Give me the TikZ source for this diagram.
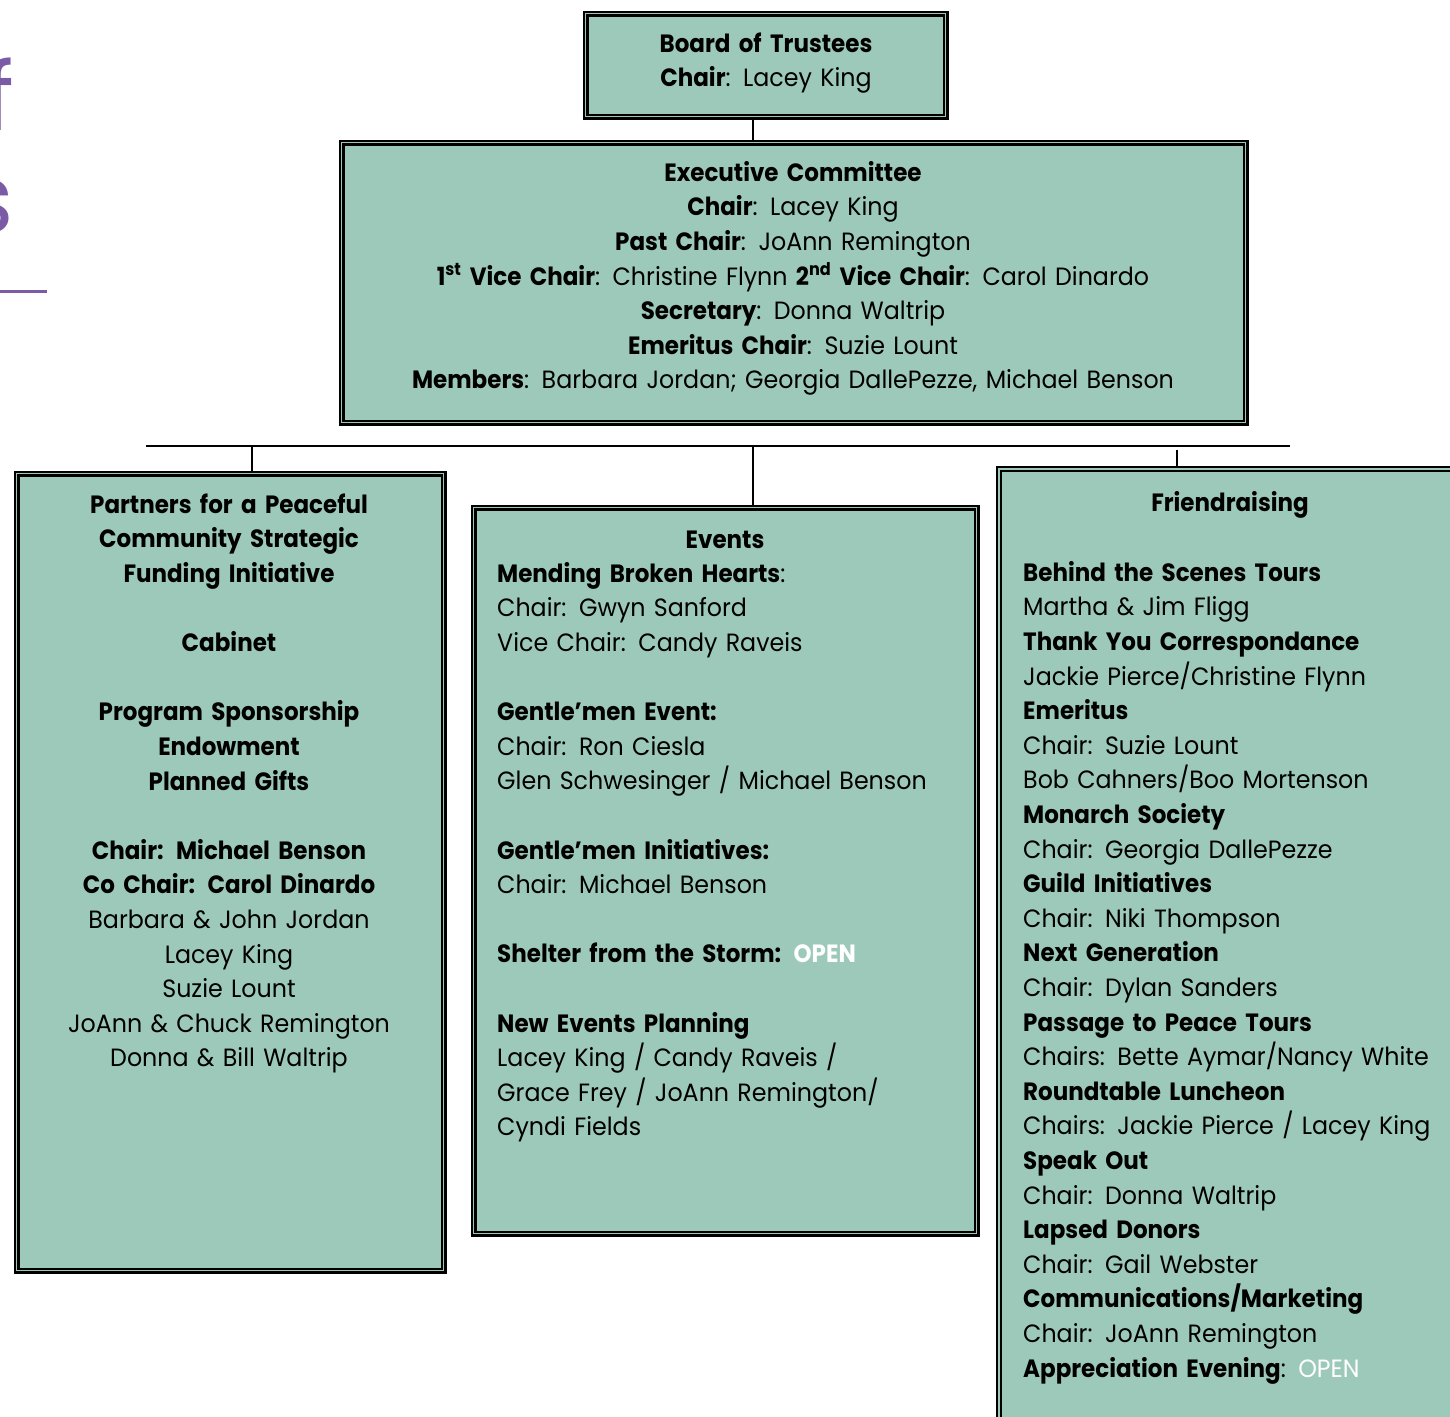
\documentclass[tikz,border=0pt]{standalone}
\usepackage{fontspec}
\setmainfont{Poppins}[FakeStretch=0.95, BoldFeatures={FakeStretch=0.92}]
\definecolor{mint}{RGB}{157,201,186}
\definecolor{purp}{RGB}{123,90,166}
\tikzset{
  orgbox/.style={draw=black, fill=mint, double=mint, double distance=1.6pt, line width=2.2pt, inner sep=0pt},
  txt/.style={inner sep=0pt, font=\fontsize{25}{34.6}\selectfont, text width=#1},
  conn/.style={draw=black, line width=1.8pt},
}
\begin{document}
\begin{tikzpicture}[x=1pt,y=1pt]
\useasboundingbox (0,0) rectangle (1450,-1416);
\clip (0,0) rectangle (1450,-1416);
% cut-off title fragments on the left
\node[txt=200pt, align=right, anchor=base east, text=purp, font=\fontsize{95}{100}\selectfont] (fragf) at (14,-130) {f};
\node[txt=200pt, align=right, anchor=base east, text=purp, font=\fontsize{95}{100}\selectfont] (frags) at (14,-232) {s};
\coordinate (ulA) at (0,-291);
\coordinate (ulB) at (47,-291);
\draw[purp, line width=3pt] (ulA) -- (ulB);
% boxes
\node[orgbox, minimum width=360pt, minimum height=103pt] (board) at (765.5,-65) {};
\node[orgbox, minimum width=904pt, minimum height=280pt] (exec) at (793.5,-282.5) {};
\node[orgbox, minimum width=427pt, minimum height=797pt] (left) at (230,-872) {};
\node[orgbox, minimum width=503pt, minimum height=726pt] (mid) at (725,-870.5) {};
\node[orgbox, minimum width=481pt, minimum height=981pt] (right) at (1239.75,-959.75) {};
% connectors
\coordinate (bt) at (753,-116.5);
\draw[conn] (bt) -- (bt |- exec.north);
\coordinate (barL) at (146,-446);
\coordinate (barR) at (1290,-446);
\draw[conn] (barL) -- (barR);
\coordinate (jl) at (252,-446);
\draw[conn] (jl) -- (jl |- left.north);
\coordinate (jm) at (753,-446);
\draw[conn] (jm) -- (jm |- mid.north);
\coordinate (jr) at (1177,-450);
\draw[conn] (jr) -- (jr |- right.north);
% texts
\node[txt=360pt, align=center, anchor=north] (boardtxt) at (766,-52+24.2) {\strut\textbf{Board of Trustees}\\
\textbf{Chair}: Lacey King};
\node[txt=900pt, align=center, anchor=north] (exectxt) at (793,-181+24.2) {\strut\textbf{Executive Committee}\\
\textbf{Chair}: Lacey King\\
\textbf{Past Chair}: JoAnn Remington\\
\textbf{1\textsuperscript{st} Vice Chair}: Christine Flynn \textbf{2\textsuperscript{nd} Vice Chair}:\enspace Carol Dinardo\\
\textbf{Secretary}: Donna Waltrip\\
\textbf{Emeritus Chair}:\enspace Suzie Lount\\
\textbf{Members}: Barbara Jordan; Georgia DallePezze, Michael Benson};
\node[txt=420pt, align=center, anchor=north] (lefttxt) at (229,-513+24.2) {\strut\textbf{Partners for a Peaceful}\\
\textbf{Community Strategic}\\
\textbf{Funding Initiative}\\
~\\
\textbf{Cabinet}\\
~\\
\textbf{Program Sponsorship}\\
\textbf{Endowment}\\
\textbf{Planned Gifts}\\
~\\
\textbf{Chair: Michael Benson}\\
\textbf{Co Chair: Carol Dinardo}\\
Barbara \& John Jordan\\
Lacey King\\
Suzie Lount\\
JoAnn \& Chuck Remington\\
Donna \& Bill Waltrip};
\node[txt=480pt, align=center, anchor=north] (midtitle) at (725,-548+24.2) {\strut\textbf{Events}};
\node[txt=470pt, align=left, anchor=north west] (midtxt) at (497,-582+24.2) {\strut\textbf{Mending Broken Hearts}:\\
Chair:\enspace Gwyn Sanford\\
Vice Chair:\enspace Candy Raveis\\
~\\
\textbf{Gentle’men Event:}\\
Chair: Ron Ciesla\\
Glen Schwesinger / Michael Benson\\
~\\
\textbf{Gentle’men Initiatives:}\\
Chair: Michael Benson\\
~\\
\textbf{Shelter from the Storm: \textcolor{white}{OPEN}}\\
~\\
\textbf{New Events Planning}\\
Lacey King / Candy Raveis /\\
Grace Frey / JoAnn Remington/\\
Cyndi Fields};
\node[txt=440pt, align=center, anchor=north] (righttitle) at (1230,-511+24.2) {\strut\textbf{Friendraising}};
\node[txt=600pt, align=left, anchor=north west] (righttxt) at (1023,-581+24.2) {\strut\textbf{Behind the Scenes Tours}\\
Martha \& Jim Fligg\\
\textbf{Thank You Correspondance}\\
Jackie Pierce/Christine Flynn\\
\textbf{Emeritus}\\
Chair: Suzie Lount\\
Bob Cahners/Boo Mortenson\\
\textbf{Monarch Society}\\
Chair:\enspace Georgia DallePezze\\
\textbf{Guild Initiatives}\\
Chair:\enspace Niki Thompson\\
\textbf{Next Generation}\\
Chair: Dylan Sanders\\
\textbf{Passage to Peace Tours}\\
Chairs:\enspace Bette Aymar/Nancy White\\
\textbf{Roundtable Luncheon}\\
Chairs:\enspace Jackie Pierce / Lacey King\\
\textbf{Speak Out}\\
Chair: Donna Waltrip\\
\textbf{Lapsed Donors}\\
Chair: Gail Webster\\
\textbf{Communications/Marketing}\\
Chair:\enspace JoAnn Remington\\
\textbf{Appreciation Evening}: \textcolor{white}{OPEN}};
\end{tikzpicture}
\end{document}
